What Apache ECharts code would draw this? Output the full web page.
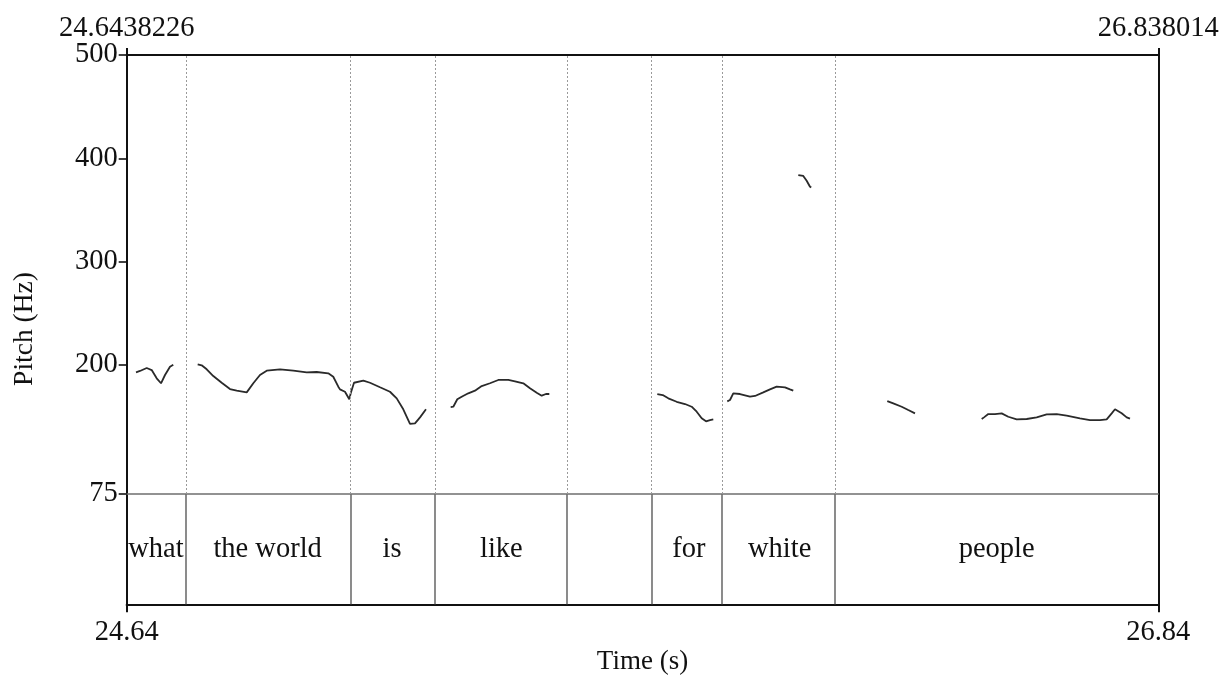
<!DOCTYPE html>
<html>
<head>
<meta charset="utf-8">
<script src="https://cdn.jsdelivr.net/npm/echarts@6/dist/echarts.min.js"></script>
<style>
  html, body { margin: 0; padding: 0; background: #fff; }
  #chart { width: 1225px; height: 677px; }
</style>
</head>
<body>
<div id="chart"></div>
<script>
// Time window of the excerpt (s)
const tStart = 24.6438226;
const tEnd = 26.838014;

// Pitch axis range and labelled ticks (Hz)
const pitchMin = 75;
const pitchMax = 500;
const pitchTicks = [75, 200, 300, 400, 500];

// Word tier: interval boundaries (s) and labels
const wordBoundaries = [24.7678, 25.1194, 25.2968, 25.5845, 25.7638, 25.9149, 26.1503];
const words = ['what', 'the world', 'is', 'like', '', 'for', 'white', 'people'];

// Pitch contour pieces, [time (s), F0 (Hz)]
const pitchWhat = [
  [24.6636, 192.8], [24.6721, 194.1], [24.6864, 197.0], [24.6970, 195.0], [24.7076, 187.0],
  [24.7168, 182.2], [24.7253, 190.2], [24.7359, 198.2], [24.7429, 200.2]
];
const pitchTheWorldIs = [
  [24.7948, 200.6], [24.8033, 199.6], [24.8140, 195.7], [24.8280, 189.2], [24.8459, 182.7],
  [24.8635, 176.6], [24.8778, 175.0], [24.8991, 173.4], [24.9131, 182.2], [24.9273, 190.2],
  [24.9416, 194.4], [24.9699, 195.7], [24.9982, 194.4], [25.0267, 192.8], [25.0479, 193.1],
  [25.0726, 191.8], [25.0832, 188.5], [25.0939, 178.9], [25.0975, 176.3], [25.1081, 174.0],
  [25.1173, 166.7], [25.1203, 172.5], [25.1273, 182.7], [25.1471, 184.7], [25.1613, 182.7],
  [25.1826, 178.3], [25.2038, 174.0], [25.2181, 167.6], [25.2321, 157.0], [25.2464, 142.8],
  [25.2570, 143.4], [25.2677, 149.2], [25.2804, 157.0]
];
const pitchLike = [
  [25.3329, 159.2], [25.3385, 159.5], [25.3470, 166.7], [25.3563, 169.2], [25.3704, 172.5],
  [25.3846, 175.0], [25.3989, 179.5], [25.4165, 182.2], [25.4342, 185.4], [25.4555, 185.4],
  [25.4697, 184.1], [25.4874, 182.2], [25.5016, 177.3], [25.5159, 173.1], [25.5265, 170.2],
  [25.5356, 171.8], [25.5427, 171.8]
];
const pitchFor = [
  [25.7724, 171.8], [25.7839, 170.8], [25.7958, 167.6], [25.8136, 164.3], [25.8313, 162.1],
  [25.8455, 159.5], [25.8562, 154.7], [25.8668, 148.3], [25.8760, 145.4], [25.8845, 146.6],
  [25.8915, 147.3]
];
const pitchWhite = [
  [25.9212, 164.7], [25.9270, 166.0], [25.9340, 172.5], [25.9483, 171.8], [25.9695, 169.2],
  [25.9802, 169.9], [25.9978, 173.4], [26.0121, 176.3], [26.0263, 178.9], [26.0440, 178.3],
  [26.0546, 176.3], [26.0616, 175.0]
];
const pitchWhiteHigh = [
  [26.0723, 383.8], [26.0829, 382.9], [26.0901, 378.3], [26.0972, 372.5], [26.0999, 371.9]
];
const pitchPeopleOnset = [
  [26.2616, 165.0], [26.2743, 162.8], [26.2922, 159.5], [26.3062, 156.3], [26.3205, 153.1]
];
const pitchPeople = [
  [26.4624, 147.6], [26.4672, 149.2], [26.4764, 152.4], [26.4906, 152.4], [26.5049, 153.1],
  [26.5189, 149.8], [26.5368, 147.3], [26.5581, 147.6], [26.5793, 149.2], [26.6006, 152.1],
  [26.6219, 152.4], [26.6431, 150.8], [26.6714, 148.3], [26.6927, 146.6], [26.7140, 146.6],
  [26.7282, 147.3], [26.7389, 153.1], [26.7459, 157.0], [26.7601, 153.1], [26.7708, 149.2],
  [26.7778, 147.9]
];

const pitchPieces = [pitchWhat, pitchTheWorldIs, pitchLike, pitchFor, pitchWhite,
                     pitchWhiteHigh, pitchPeopleOnset, pitchPeople];

const serif = 'Liberation Serif, Times New Roman, serif';
const fontSize = 28.5;
const black = '#111';
const tierGrey = '#6f6f6f';

// interval midpoints for the word labels
const edges = [tStart, ...wordBoundaries, tEnd];
const wordPoints = words.map((w, i) => [(edges[i] + edges[i + 1]) / 2, 0.5, w]);

const chart = echarts.init(document.getElementById('chart'), null, { renderer: 'canvas' });

const plotLeft = 126.7;
const plotWidth = 1031.6;

const option = {
  animation: false,
  backgroundColor: '#fff',
  textStyle: { fontFamily: serif },
  grid: [
    { left: plotLeft, top: 55, width: plotWidth, height: 439 },
    { left: plotLeft, top: 494, width: plotWidth, height: 110.3 }
  ],
  xAxis: [
    {
      // pitch panel, top edge with exact window limits
      gridIndex: 0, type: 'value', position: 'top', min: tStart, max: tEnd,
      axisLine: { show: true, onZero: false, lineStyle: { color: black, width: 2 } },
      axisTick: { show: true, inside: false, length: 7, customValues: [tStart, tEnd],
                  lineStyle: { color: black, width: 2 } },
      axisLabel: { show: true, customValues: [tStart, tEnd], margin: 12,
                   formatter: v => String(v), color: black, fontSize: fontSize, fontFamily: serif,
                   showMinLabel: true, showMaxLabel: true },
      splitLine: { show: false }
    },
    {
      // tier panel, bottom edge with rounded limits
      gridIndex: 1, type: 'value', position: 'bottom', min: tStart, max: tEnd,
      name: 'Time (s)', nameLocation: 'middle', nameGap: 44,
      nameTextStyle: { color: black, fontSize: fontSize - 1.5, fontFamily: serif },
      axisLine: { show: true, onZero: false, lineStyle: { color: black, width: 2.2 } },
      axisTick: { show: true, inside: false, length: 8, customValues: [tStart, tEnd],
                  lineStyle: { color: black, width: 2 } },
      axisLabel: { show: true, customValues: [tStart, tEnd], margin: 14,
                   formatter: v => v.toFixed(2), color: black, fontSize: fontSize, fontFamily: serif,
                   showMinLabel: true, showMaxLabel: true },
      splitLine: { show: false }
    },
    {
      // line separating the pitch panel from the tier
      gridIndex: 1, type: 'value', position: 'top', min: tStart, max: tEnd,
      axisLine: { show: true, onZero: false, lineStyle: { color: tierGrey, width: 1.6 } },
      axisTick: { show: false }, axisLabel: { show: false }, splitLine: { show: false }
    }
  ],
  yAxis: [
    {
      gridIndex: 0, type: 'value', position: 'left', min: pitchMin, max: pitchMax,
      axisLine: { show: true, onZero: false, lineStyle: { color: black, width: 2 } },
      axisTick: { show: true, inside: false, length: 8, customValues: pitchTicks,
                  lineStyle: { color: black, width: 1.6 } },
      axisLabel: { show: true, customValues: pitchTicks, margin: 9, color: black,
                   fontSize: fontSize, fontFamily: serif, showMinLabel: true, showMaxLabel: true },
      splitLine: { show: false }
    },
    {
      gridIndex: 0, type: 'value', position: 'right', min: pitchMin, max: pitchMax,
      axisLine: { show: true, onZero: false, lineStyle: { color: black, width: 2 } },
      axisTick: { show: false }, axisLabel: { show: false }, splitLine: { show: false }
    },
    {
      gridIndex: 1, type: 'value', position: 'left', min: 0, max: 1,
      axisLine: { show: true, onZero: false, lineStyle: { color: black, width: 2 } },
      axisTick: { show: false }, axisLabel: { show: false }, splitLine: { show: false }
    },
    {
      gridIndex: 1, type: 'value', position: 'right', min: 0, max: 1,
      axisLine: { show: true, onZero: false, lineStyle: { color: black, width: 2 } },
      axisTick: { show: false }, axisLabel: { show: false }, splitLine: { show: false }
    }
  ],
  graphic: [
    {
      type: 'text', x: 25, y: 329, rotation: Math.PI / 2,
      style: { text: 'Pitch (Hz)', fill: black, font: (fontSize - 1) + 'px ' + serif,
               align: 'center', verticalAlign: 'middle' }
    }
  ],
  series: [
    // dotted boundary guides over the pitch panel
    {
      type: 'line', xAxisIndex: 0, yAxisIndex: 0, data: [], silent: true,
      markLine: {
        silent: true, symbol: 'none', animation: false,
        label: { show: false },
        lineStyle: { color: '#9a9a9a', type: [2, 2], width: 1 },
        data: wordBoundaries.map(b => ({ xAxis: b }))
      }
    },
    // solid interval boundaries in the word tier
    {
      type: 'line', xAxisIndex: 1, yAxisIndex: 2, data: [], silent: true,
      markLine: {
        silent: true, symbol: 'none', animation: false,
        label: { show: false },
        lineStyle: { color: tierGrey, type: 'solid', width: 1.6 },
        data: wordBoundaries.map(b => ({ xAxis: b }))
      }
    },
    // word labels
    {
      type: 'scatter', xAxisIndex: 1, yAxisIndex: 2, silent: true,
      symbolSize: 1, itemStyle: { color: 'rgba(0,0,0,0)', opacity: 1 },
      data: wordPoints,
      label: {
        show: true, position: 'inside', formatter: p => p.value[2], opacity: 1,
        color: black, fontSize: fontSize, fontFamily: serif,
        textBorderWidth: 0
      }
    },
    // pitch contour
    ...pitchPieces.map(piece => ({
      type: 'line', xAxisIndex: 0, yAxisIndex: 0, data: piece,
      showSymbol: false, symbol: 'none', smooth: false, silent: true,
      lineStyle: { color: '#2a2a2a', width: 1.8 }
    }))
  ]
};

chart.setOption(option);
</script>
</body>
</html>
